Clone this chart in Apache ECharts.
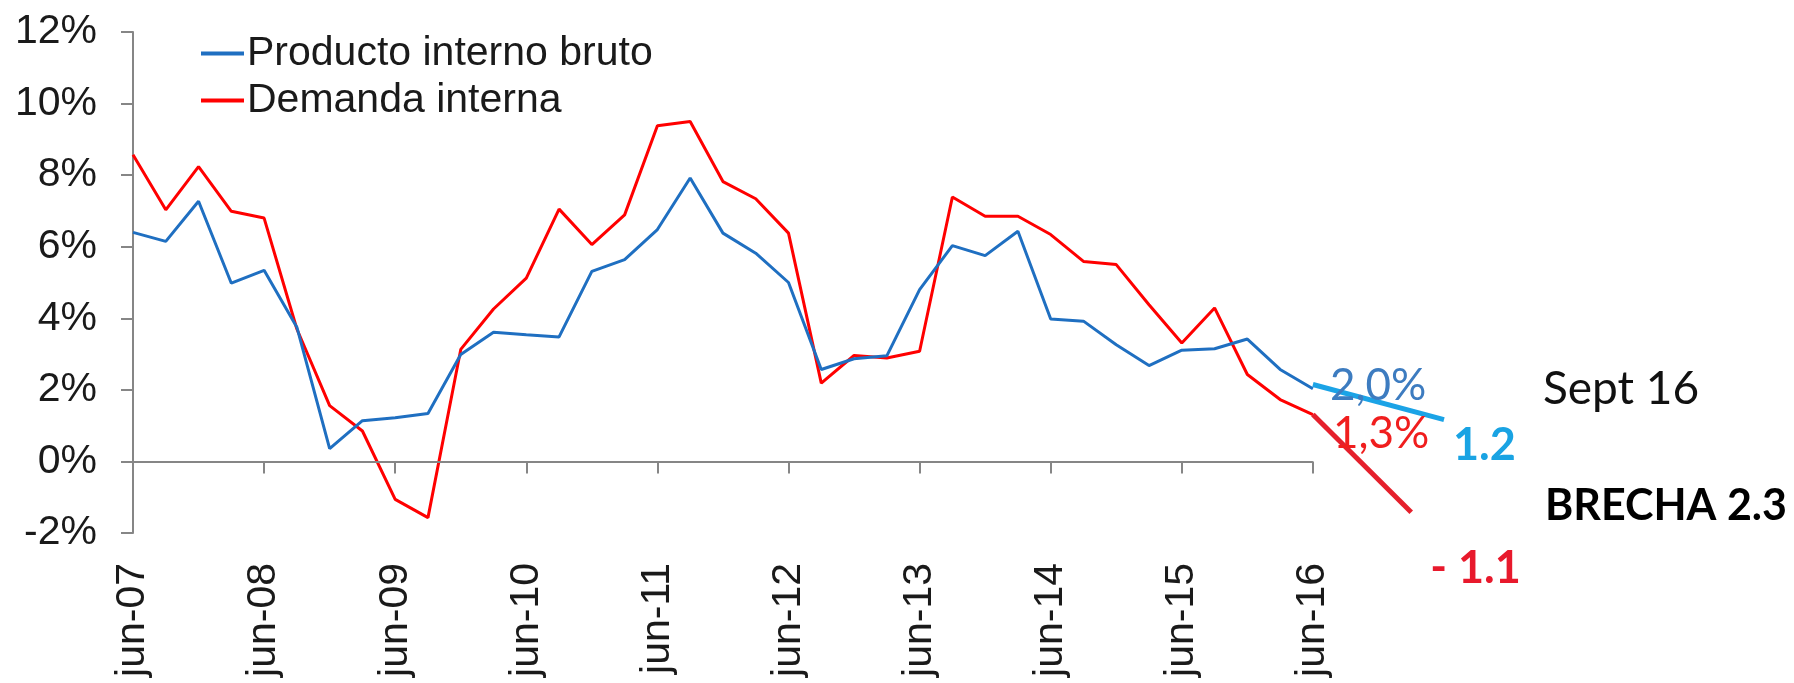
<!DOCTYPE html>
<html>
<head>
<meta charset="utf-8">
<script src="https://cdn.jsdelivr.net/npm/echarts@6/dist/echarts.min.js"></script>
<style>
  html, body { margin: 0; padding: 0; background: #fff; }
  #chart { width: 1794px; height: 683px; }
</style>
</head>
<body>
<div id="chart"></div>
<script>
// trimestres jun-07 .. jun-16, más cuatro trimestres para las proyecciones
var quarters = [
  'jun-07', 'sep-07', 'dic-07', 'mar-08',
  'jun-08', 'sep-08', 'dic-08', 'mar-09',
  'jun-09', 'sep-09', 'dic-09', 'mar-10',
  'jun-10', 'sep-10', 'dic-10', 'mar-11',
  'jun-11', 'sep-11', 'dic-11', 'mar-12',
  'jun-12', 'sep-12', 'dic-12', 'mar-13',
  'jun-13', 'sep-13', 'dic-13', 'mar-14',
  'jun-14', 'sep-14', 'dic-14', 'mar-15',
  'jun-15', 'sep-15', 'dic-15', 'mar-16',
  'jun-16', 'sep-16', 'dic-16', 'mar-17', 'jun-17'
]
var lastObs = 36 // jun-16
// Producto interno bruto (%)
var pib = [
  6.4, 6.15, 7.27, 4.98, 5.34, 3.75, 0.36, 1.14, 1.22, 1.34,
  2.99, 3.61, 3.54, 3.48, 5.31, 5.64, 6.48, 7.92, 6.38, 5.82,
  5.0, 2.57, 2.87, 2.95, 4.8, 6.03, 5.75, 6.43, 3.98, 3.92,
  3.26, 2.68, 3.11, 3.15, 3.42, 2.57, 2.03
]
// Demanda interna (%)
var demanda = [
  8.57, 7.03, 8.24, 6.99, 6.8, 3.7, 1.56, 0.85, -1.06, -1.57,
  3.13, 4.26, 5.12, 7.05, 6.06, 6.89, 9.38, 9.5, 7.82, 7.34,
  6.38, 2.19, 2.96, 2.89, 3.08, 7.39, 6.85, 6.85, 6.34, 5.59,
  5.5, 4.38, 3.31, 4.29, 2.43, 1.73, 1.31
]
// trazos a mano sobre el gráfico (índice de trimestre, valor)
var pibProjX = [36, 40]
var pibProj = [2.15, 1.17]
var demProjX = [36, 39]
var demProj = [1.31, -1.42]
var yTicks = [-2, 0, 2, 4, 6, 8, 10, 12]

var axisFont = 'Liberation Sans, Arial, sans-serif'
var noteFont = 'Lato, sans-serif'
var axisColor = '#868686'

function pairs (xs, ys) {
  return xs.map(function (x, i) { return [x, ys[i]] })
}
function yearly (index) {
  return index % 4 === 0 && index <= lastObs
}
function note (text, color, size, bold, offset) {
  return {
    show: true,
    position: 'right',
    formatter: text,
    offset: offset,
    fontSize: size,
    fontWeight: bold ? 'bold' : 'normal',
    fontFamily: noteFont,
    color: color
  }
}

var chart = echarts.init(document.getElementById('chart'), null, { renderer: 'canvas' })

var option = {
  animation: false,
  backgroundColor: '#fff',
  grid: { left: 133, right: 350, top: 32, bottom: 150 },
  legend: {
    orient: 'vertical',
    left: 196,
    top: 28,
    itemWidth: 43,
    itemHeight: 4,
    itemGap: 6,
    icon: 'rect',
    data: ['Producto interno bruto', 'Demanda interna'],
    textStyle: { fontSize: 41, fontFamily: axisFont, color: '#1a1a1a', padding: [0, 0, 0, -2] }
  },
  xAxis: [
    {
      type: 'category',
      data: quarters,
      boundaryGap: false,
      position: 'bottom',
      axisLine: { show: false, onZero: true },
      axisTick: { show: true, interval: yearly, length: 12, lineStyle: { color: axisColor, width: 2 } },
      axisLabel: { show: false },
      splitLine: { show: false }
    },
    {
      type: 'category',
      data: quarters,
      boundaryGap: false,
      position: 'bottom',
      axisLine: { show: false, onZero: false },
      axisTick: { show: false },
      axisLabel: {
        interval: yearly,
        rotate: 90,
        margin: 30,
        fontSize: 41,
        fontFamily: axisFont,
        color: '#1a1a1a'
      },
      splitLine: { show: false }
    }
  ],
  yAxis: {
    type: 'value',
    min: yTicks[0],
    max: yTicks[yTicks.length - 1],
    interval: 2,
    axisLine: { show: true, lineStyle: { color: axisColor, width: 2 } },
    axisTick: { show: true, length: 12, lineStyle: { color: axisColor, width: 2 } },
    axisLabel: {
      formatter: '{value}%',
      margin: 36,
      fontSize: 41,
      fontFamily: axisFont,
      color: '#1a1a1a'
    },
    splitLine: { show: false }
  },
  series: [
    {
      name: 'Producto interno bruto',
      type: 'line',
      data: pib,
      symbol: 'none',
      lineStyle: { color: '#1f6fc1', width: 3 },
      itemStyle: { color: '#1f6fc1' },
      markLine: {
        silent: true,
        symbol: ['none', 'none'],
        label: { show: false },
        lineStyle: { color: axisColor, width: 2, type: 'solid' },
        data: [[{ coord: [0, 0] }, { coord: [lastObs, 0] }]]
      },
      markPoint: {
        symbolSize: 0,
        data: [{ coord: [lastObs, pib[lastObs]], label: note('2,0%', '#3d7cc0', 44, false, [12, -3]) }]
      },
      z: 3
    },
    {
      name: 'Demanda interna',
      type: 'line',
      data: demanda,
      symbol: 'none',
      lineStyle: { color: '#ff0000', width: 3 },
      itemStyle: { color: '#ff0000' },
      markPoint: {
        symbolSize: 0,
        data: [{ coord: [lastObs, demanda[lastObs]], label: note('1,3%', '#f01e1e', 44, false, [15, 19]) }]
      },
      z: 2
    },
    {
      name: 'pibProj',
      type: 'line',
      data: pairs(pibProjX, pibProj),
      symbol: 'none',
      lineStyle: { color: '#1ba3e6', width: 5 },
      markPoint: {
        symbolSize: 0,
        data: [{ coord: [pibProjX[1], pibProj[1]], label: note('1.2', '#19a3e3', 45, true, [4, 26]) }]
      },
      z: 4
    },
    {
      name: 'demProj',
      type: 'line',
      data: pairs(demProjX, demProj),
      symbol: 'none',
      lineStyle: { color: '#e5202c', width: 5 },
      markPoint: {
        symbolSize: 0,
        data: [{ coord: [demProjX[1], demProj[1]], label: note('- 1.1', '#e8192c', 45, true, [14, 56]) }]
      },
      z: 4
    }
  ],
  graphic: [
    {
      type: 'text',
      left: 1543,
      top: 366,
      style: { text: 'Sept 16', font: '46px ' + noteFont, fill: '#111' }
    },
    {
      type: 'text',
      left: 1545,
      top: 485,
      style: { text: 'BRECHA 2.3', font: 'bold 43px ' + noteFont, fill: '#000' }
    }
  ]
}

chart.setOption(option)
window.addEventListener('resize', function () {
  chart.resize()
})
</script>
</body>
</html>
